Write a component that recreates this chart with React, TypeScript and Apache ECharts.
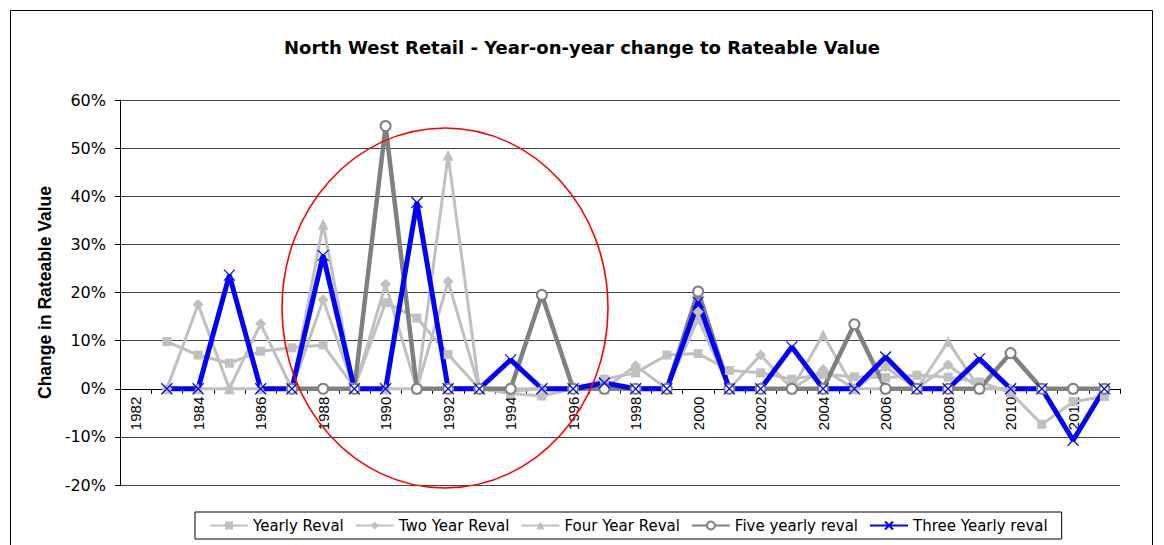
import React, { useEffect, useRef } from "react";
import * as echarts from "echarts";

const years: string[] = [
  "1982","1983","1984","1985","1986","1987","1988","1989","1990","1991","1992",
  "1993","1994","1995","1996","1997","1998","1999","2000","2001","2002","2003",
  "2004","2005","2006","2007","2008","2009","2010","2011","2012","2013",
];

const yearlyReval: (number | null)[] = [
  null, 9.8, 7.0, 5.3, 7.8, 8.5, 9.1, 0.3, 17.9, 14.7, 7.1,
  0, -1.0, -1.5, 0, 2.0, 3.3, 7.0, 7.3, 3.8, 3.3, 2.0,
  3.0, 2.5, 2.3, 2.8, 2.4, 1.4, -0.8, -7.4, -2.7, -1.6,
];

const twoYearReval: (number | null)[] = [
  null, 0, 17.5, 0, 13.5, 0, 18.5, 0, 21.7, 0, 22.3,
  0, -0.5, 0, 0, 0, 4.8, 0, 16.0, 0, 7.0, 0,
  4.0, 0, 4.5, 0, 5.0, 0, 0, 0, 0, 0,
];

const fourYearReval: (number | null)[] = [
  null, 0, 0, 0, 0, 0, 34.2, 0, 0, 0, 48.5,
  0, 0, 0, 0.3, 0, 0, 0, 14.5, 0, 0, 0,
  11.2, 0, 0, 0, 9.8, 0, 0, 0, 0, 0,
];

const fiveYearlyReval: (number | null)[] = [
  null, null, null, null, null, 0, 0, 0, 54.6, 0, 0,
  0, 0, 19.5, 0, 0, 0, 0, 20.2, 0, 0, 0,
  0, 13.4, 0, 0, 0, 0, 7.4, 0, 0, 0,
];

const threeYearlyReval: (number | null)[] = [
  null, 0, 0, 23.6, 0, 0, 27.7, 0, 0, 38.7, 0,
  0, 6.0, 0, 0, 1.2, 0, 0, 18.0, 0, 0, 8.7,
  0, 0, 6.6, 0, 0, 6.2, 0, 0, -10.7, 0,
];

const yTickMin = -20;
const yTickMax = 60;
const yTickStep = 10;

const App: React.FC = () => {
  const ref = useRef<HTMLDivElement | null>(null);

  useEffect(() => {
    document.body.style.margin = "0";
    if (!ref.current) return;
    const chart = echarts.init(ref.current, null, { renderer: "svg" });
    const light = "#c0c0c0";
    const dark = "#808080";
    const blue = "#0000ff";
    const gridTop = 100;
    const gridBottom = 60;
    const gridHeight = 545 - gridTop - gridBottom;
    const zeroOffset = (gridHeight * (0 - yTickMin)) / (yTickMax - yTickMin);
    const option: any = {
      animation: false,
      backgroundColor: "#ffffff",
      title: {
        text: "North West Retail - Year-on-year change to Rateable Value",
        left: "center",
        top: 33,
        textStyle: {
          fontFamily: "DejaVu Sans",
          fontSize: 18,
          fontWeight: "bold",
          color: "#000",
        },
      },
      grid: { left: 120, right: 44, top: gridTop, bottom: gridBottom },
      legend: {
        left: 195,
        top: 512,
        padding: [6, 14, 6, 14],
        borderColor: "#000",
        borderWidth: 1,
        itemWidth: 38,
        itemHeight: 10,
        itemGap: 11,
        textStyle: { fontFamily: "DejaVu Sans", fontSize: 15, color: "#000" },
        data: [
          "Yearly Reval",
          "Two Year Reval",
          "Four Year Reval",
          "Five yearly reval",
          "Three Yearly reval",
        ],
      },
      xAxis: {
        type: "category",
        data: years,
        boundaryGap: true,
        offset: -zeroOffset,
        axisLine: { onZero: false, lineStyle: { color: "#000", width: 1 } },
        axisTick: { show: true, interval: 0, length: 5, lineStyle: { color: "#000" } },
        axisLabel: {
          interval: 1,
          rotate: 90,
          margin: 8,
          fontFamily: "Liberation Sans",
          fontSize: 15,
          color: "#000",
        },
        splitLine: { show: false },
      },
      yAxis: {
        type: "value",
        min: yTickMin,
        max: yTickMax,
        interval: yTickStep,
        name: "Change in Rateable Value",
        nameLocation: "middle",
        nameRotate: 90,
        nameGap: 66,
        nameTextStyle: {
          fontFamily: "Liberation Sans",
          fontSize: 17.5,
          fontWeight: "bold",
          color: "#000",
        },
        axisLine: { show: true, lineStyle: { color: "#000", width: 1 } },
        axisTick: { show: true, length: 5, lineStyle: { color: "#000" } },
        axisLabel: {
          formatter: "{value}%",
          margin: 14,
          fontFamily: "DejaVu Sans",
          fontSize: 16,
          color: "#000",
        },
        splitLine: { show: true, lineStyle: { color: "#444", width: 1 } },
      },
      series: [
        {
          name: "Yearly Reval",
          type: "line",
          data: yearlyReval,
          symbol: "rect",
          symbolSize: 9,
          lineStyle: { color: light, width: 3 },
          itemStyle: { color: light },
        },
        {
          name: "Two Year Reval",
          type: "line",
          data: twoYearReval,
          symbol: "diamond",
          symbolSize: 11,
          lineStyle: { color: light, width: 3 },
          itemStyle: { color: light },
        },
        {
          name: "Four Year Reval",
          type: "line",
          data: fourYearReval,
          symbol: "triangle",
          symbolSize: 11,
          lineStyle: { color: light, width: 3 },
          itemStyle: { color: light },
        },
        {
          name: "Five yearly reval",
          type: "line",
          data: fiveYearlyReval,
          symbol: "emptyCircle",
          symbolSize: 10,
          lineStyle: { color: dark, width: 4.5 },
          itemStyle: { color: dark, borderColor: dark, borderWidth: 1 },
        },
        {
          name: "Three Yearly reval",
          type: "line",
          data: threeYearlyReval,
          symbol: "path://M0,0L10,10M10,0L0,10",
          symbolSize: 11,
          lineStyle: { color: blue, width: 5 },
          itemStyle: { color: blue, borderColor: blue, borderWidth: 1.2 },
        },
      ],
      graphic: [
        {
          type: "rect",
          silent: true,
          shape: { x: 10.5, y: 10.5, width: 1142, height: 600 },
          style: { fill: "none", stroke: "#000", lineWidth: 1 },
          z: 0,
        },
        {
          type: "ellipse",
          silent: true,
          shape: { cx: 445, cy: 308, rx: 163, ry: 180 },
          style: { fill: "none", stroke: "#ff0000", lineWidth: 1.6 },
          z: 100,
        },
      ],
    };
    chart.setOption(option);
    return () => chart.dispose();
  }, []);

  return <div ref={ref} style={{ width: 1164, height: 545 }} />;
};

export default App;
